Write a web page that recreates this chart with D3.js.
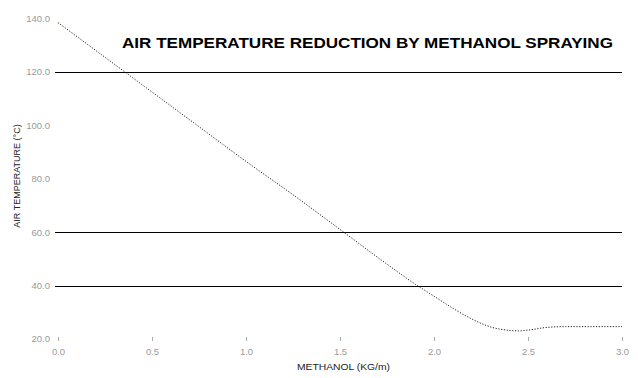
<!DOCTYPE html>
<html><head><meta charset="utf-8">
<script src="https://cdn.jsdelivr.net/npm/d3@7"></script>
<style>body{margin:0;background:#fff}svg{display:block}</style>
</head><body>
<svg id="c" width="638" height="378"></svg>
<script>
const methanol = [0.0,0.25,0.5,0.75,1.0,1.25,1.5,1.75,1.9,2.0,2.1,2.2,2.3,2.4,2.45,2.5,2.6,2.7,2.8,3.0];
const temperature = [138.5,125.5,112.5,99.5,86.5,74,61,48,40.5,36,31.5,27.5,24.5,23.2,23,23.3,24.3,24.6,24.6,24.6];
const yTicks = [20,40,60,80,100,120,140];
const yGrid = [40,60,120];
const xTicks = [0,0.5,1,1.5,2,2.5,3];
const title = "AIR TEMPERATURE REDUCTION BY METHANOL SPRAYING";
const xTitle = "METHANOL (KG/m)";
const yTitle = "AIR TEMPERATURE (\u00B0C)";

const svg = d3.select("#c");
const x = d3.scaleLinear().domain([0,3]).range([58,622]);
const y = d3.scaleLinear().domain([20,140]).range([338.9,18.6]);

// gridlines
svg.append("g").selectAll("line").data(yGrid).join("line")
  .attr("x1",55).attr("x2",622)
  .attr("y1",d=>Math.round(y(d))+0.5).attr("y2",d=>Math.round(y(d))+0.5)
  .attr("stroke","#000").attr("stroke-width",1.2);

// y tick labels
svg.append("g").selectAll("text").data(yTicks).join("text")
  .attr("x",50).attr("y",d=>y(d)+3.5)
  .attr("text-anchor","end").attr("font-family","Liberation Sans, Arial, sans-serif")
  .attr("font-size",9.5).attr("fill","#9a9a9a")
  .text(d=>d3.format(".1f")(d));

// x axis ticks
const xa = svg.append("g").attr("transform","translate(0,337)")
  .call(d3.axisBottom(x).tickValues(xTicks).tickSize(4).tickPadding(7).tickFormat(d3.format(".1f")));
xa.select(".domain").remove();
xa.selectAll(".tick line").attr("stroke","#aaa");
xa.selectAll(".tick text").attr("fill","#9a9a9a").attr("font-size",9.5)
  .attr("font-family","Liberation Sans, Arial, sans-serif");

// curve
const line = d3.line().x((d,i)=>x(methanol[i])).y(d=>y(d)).curve(d3.curveMonotoneX);
svg.append("path").datum(temperature).attr("d",line)
  .attr("fill","none").attr("stroke","#222").attr("stroke-width",1)
  .attr("stroke-dasharray","1.2,1.6");

// title
svg.append("text").attr("x",122).attr("y",48)
  .attr("font-family","Liberation Sans, Arial, sans-serif").attr("font-weight","bold")
  .attr("font-size",15).attr("fill","#000")
  .attr("textLength",491).attr("lengthAdjust","spacingAndGlyphs")
  .text(title);

// x title
svg.append("text").attr("x",297).attr("y",370)
  .attr("font-family","Liberation Sans, Arial, sans-serif")
  .attr("font-size",9).attr("fill","#222")
  .attr("textLength",93).attr("lengthAdjust","spacingAndGlyphs")
  .text(xTitle);

// y title
svg.append("text").attr("transform","translate(20,176) rotate(-90)")
  .attr("text-anchor","middle")
  .attr("font-family","Liberation Sans, Arial, sans-serif")
  .attr("font-size",9).attr("fill","#222")
  .text(yTitle);
</script>
</body></html>
